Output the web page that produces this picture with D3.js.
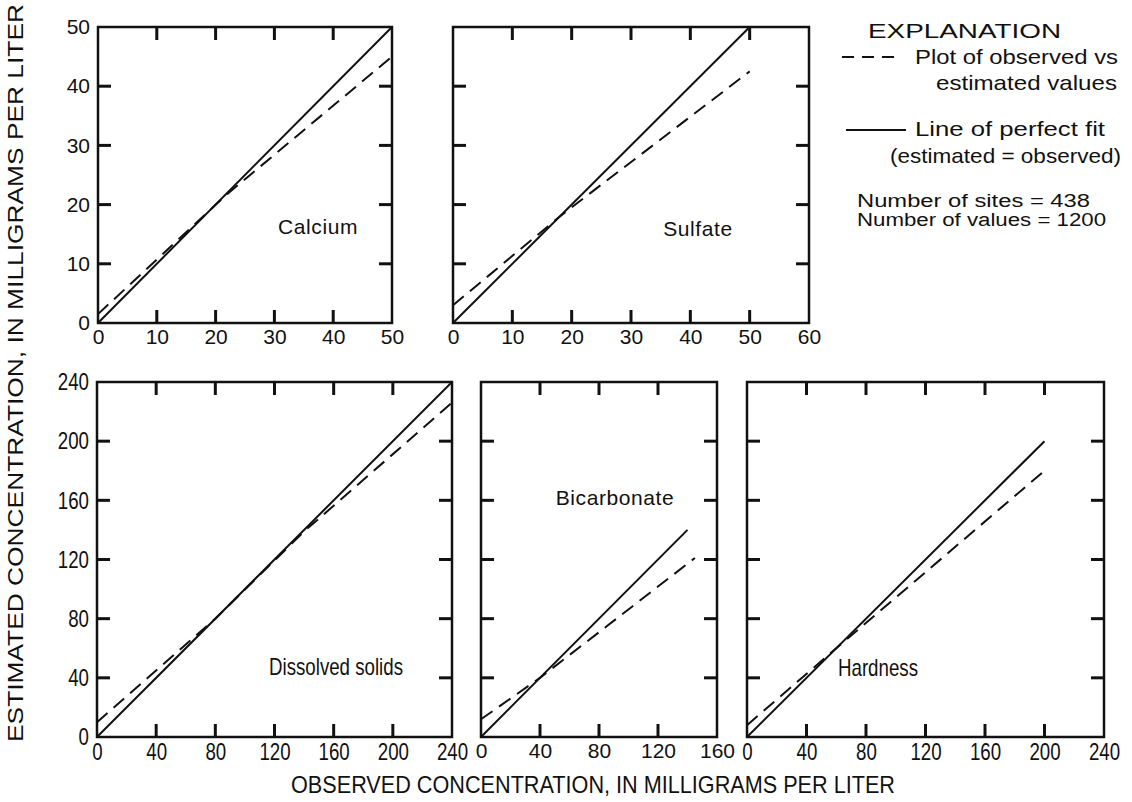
<!DOCTYPE html>
<html lang="en">
<head>
<meta charset="utf-8">
<title>Observed vs estimated concentrations</title>
<script src="https://cdn.jsdelivr.net/npm/d3@7"></script>
<style>
  body { margin: 0; background: #fff; }
  svg { display: block; }
  text { fill: #111; font-family: "Liberation Sans", Arial, sans-serif; }
  .frame { fill: none; stroke: #111; stroke-width: 2.5; }
  .fit { fill: none; stroke: #111; stroke-width: 2; }
  .est { fill: none; stroke: #111; stroke-width: 2; stroke-dasharray: 14 8; }
</style>
</head>
<body>
<script>
// data
var panelNames = ["Calcium", "Sulfate", "Dissolved solids", "Bicarbonate", "Hardness"];
var xTickValues = [
  [0, 10, 20, 30, 40, 50],
  [0, 10, 20, 30, 40, 50, 60],
  [0, 40, 80, 120, 160, 200, 240],
  [0, 40, 80, 120, 160],
  [0, 40, 80, 120, 160, 200, 240]
];
var yTickValues = [
  [0, 10, 20, 30, 40, 50],
  [0, 10, 20, 30, 40, 50],
  [0, 40, 80, 120, 160, 200, 240],
  [0, 40, 80, 120, 160, 200, 240],
  [0, 40, 80, 120, 160, 200, 240]
];
// line of perfect fit runs from 0 to this observed value
var perfectFitMax = [50, 50, 240, 140, 200];
// dashed curve: observed (x) vs estimated (y)
var observedVals = [
  [0, 22, 50],
  [0, 18, 50],
  [0, 80, 140, 240],
  [0, 40, 145],
  [0, 60, 200]
];
var estimatedVals = [
  [1.5, 21.8, 45],
  [3, 18, 42.5],
  [10, 80, 139, 226],
  [12, 40, 121],
  [8, 60, 180]
];

// layout (pixels)
var frames = [
  {left: 98,  right: 392,  top: 27,  bottom: 323, yLabels: true,  narrow: false, lab: [318, 234], labW: 0},
  {left: 453, right: 809,  top: 27,  bottom: 323, yLabels: false, narrow: false, lab: [698, 236], labW: 0},
  {left: 97,  right: 452,  top: 382, bottom: 737, yLabels: true,  narrow: true,  lab: [336, 675], labW: 134},
  {left: 481, right: 717,  top: 382, bottom: 737, yLabels: false, narrow: false, lab: [615, 505], labW: 0},
  {left: 747, right: 1104, top: 382, bottom: 737, yLabels: false, narrow: true,  lab: [878, 676], labW: 80}
];
var tickLen = 13, tickW = 3;

var svg = d3.select("body").append("svg")
    .attr("width", 1132)
    .attr("height", 802);

function narrowLabels(sel) {
  sel.attr("textLength", function(d) { return String(d).length * 10.4; })
     .attr("lengthAdjust", "spacingAndGlyphs");
}

function drawPanel(i) {
  var f = frames[i];
  var x = d3.scaleLinear().domain([0, d3.max(xTickValues[i])]).range([f.left, f.right]);
  var y = d3.scaleLinear().domain([0, d3.max(yTickValues[i])]).range([f.bottom, f.top]);
  var g = svg.append("g");
  var innerX = xTickValues[i].slice(1, -1);
  var innerY = yTickValues[i].slice(1, -1);
  var fs = f.narrow ? 24 : 21;

  g.append("rect").attr("class", "frame")
      .attr("x", f.left).attr("y", f.top)
      .attr("width", f.right - f.left).attr("height", f.bottom - f.top);

  // tick labels through d3 axes
  var bx = g.append("g")
      .attr("transform", "translate(0," + f.bottom + ")")
      .call(d3.axisBottom(x).tickValues(xTickValues[i]).tickSize(0).tickPadding(6).tickFormat(d3.format("d")));
  bx.select(".domain").remove();
  bx.selectAll("text").style("font-size", fs + "px");
  if (f.narrow) narrowLabels(bx.selectAll("text"));

  if (f.yLabels) {
    var ly = g.append("g")
        .attr("transform", "translate(" + f.left + ",0)")
        .call(d3.axisLeft(y).tickValues(yTickValues[i]).tickSize(0).tickPadding(8).tickFormat(d3.format("d")));
    ly.select(".domain").remove();
    ly.selectAll("text").style("font-size", fs + "px");
    if (f.narrow) narrowLabels(ly.selectAll("text"));
  }

  // inward tick marks on all four sides
  var tg = g.append("g");
  tg.selectAll("line.xb").data(innerX).join("line").attr("class", "xb")
      .attr("x1", x).attr("x2", x)
      .attr("y1", f.bottom).attr("y2", f.bottom - tickLen);
  tg.selectAll("line.xt").data(innerX).join("line").attr("class", "xt")
      .attr("x1", x).attr("x2", x)
      .attr("y1", f.top).attr("y2", f.top + tickLen);
  tg.selectAll("line.yl").data(innerY).join("line").attr("class", "yl")
      .attr("y1", y).attr("y2", y)
      .attr("x1", f.left).attr("x2", f.left + tickLen);
  tg.selectAll("line.yr").data(innerY).join("line").attr("class", "yr")
      .attr("y1", y).attr("y2", y)
      .attr("x1", f.right).attr("x2", f.right - tickLen);
  tg.selectAll("line")
      .style("stroke", "#111")
      .style("stroke-width", tickW + "px");

  var line = d3.line().x(function(p) { return x(p[0]); }).y(function(p) { return y(p[1]); });

  g.append("path").attr("class", "fit")
      .attr("d", line([[0, 0], [perfectFitMax[i], perfectFitMax[i]]]));

  g.append("path").attr("class", "est")
      .attr("d", line(d3.zip(observedVals[i], estimatedVals[i])));

  var t = g.append("text")
      .attr("x", f.lab[0]).attr("y", f.lab[1])
      .attr("text-anchor", "middle")
      .style("font-size", f.narrow ? "24px" : "21px")
      .style("letter-spacing", f.narrow ? "0px" : "0.6px")
      .text(panelNames[i]);
  if (f.narrow) t.attr("textLength", f.labW).attr("lengthAdjust", "spacingAndGlyphs");
}

for (var i = 0; i < panelNames.length; i++) drawPanel(i);

// axis titles
svg.append("text")
    .attr("x", 593).attr("y", 793)
    .attr("text-anchor", "middle")
    .attr("textLength", 604).attr("lengthAdjust", "spacingAndGlyphs")
    .style("font-size", "24px")
    .text("OBSERVED CONCENTRATION, IN MILLIGRAMS PER LITER");

svg.append("text")
    .attr("transform", "translate(23,373) rotate(-90)")
    .attr("text-anchor", "middle")
    .attr("textLength", 738).attr("lengthAdjust", "spacingAndGlyphs")
    .style("font-size", "22px")
    .text("ESTIMATED CONCENTRATION, IN MILLIGRAMS PER LITER");

// explanation
var legend = svg.append("g");
function legendText(x, y, w, size, s) {
  legend.append("text").attr("x", x).attr("y", y)
      .attr("textLength", w).attr("lengthAdjust", "spacingAndGlyphs")
      .style("font-size", size + "px").text(s);
}
legendText(868, 38, 193, 21, "EXPLANATION");
legend.append("line").attr("class", "est").attr("x1", 842).attr("x2", 902).attr("y1", 57).attr("y2", 57)
    .style("stroke-dasharray", "12 8");
legendText(915, 64, 203, 21, "Plot of observed vs");
legendText(936, 90, 181, 21, "estimated values");
legend.append("line").attr("class", "fit").attr("x1", 846).attr("x2", 906).attr("y1", 130).attr("y2", 130);
legendText(915, 136, 190, 21, "Line of perfect fit");
legendText(890, 163, 231, 21, "(estimated = observed)");
legendText(857, 207, 233, 18, "Number of sites = 438");
legendText(857, 226, 249, 18, "Number of values = 1200");
</script>
</body>
</html>
